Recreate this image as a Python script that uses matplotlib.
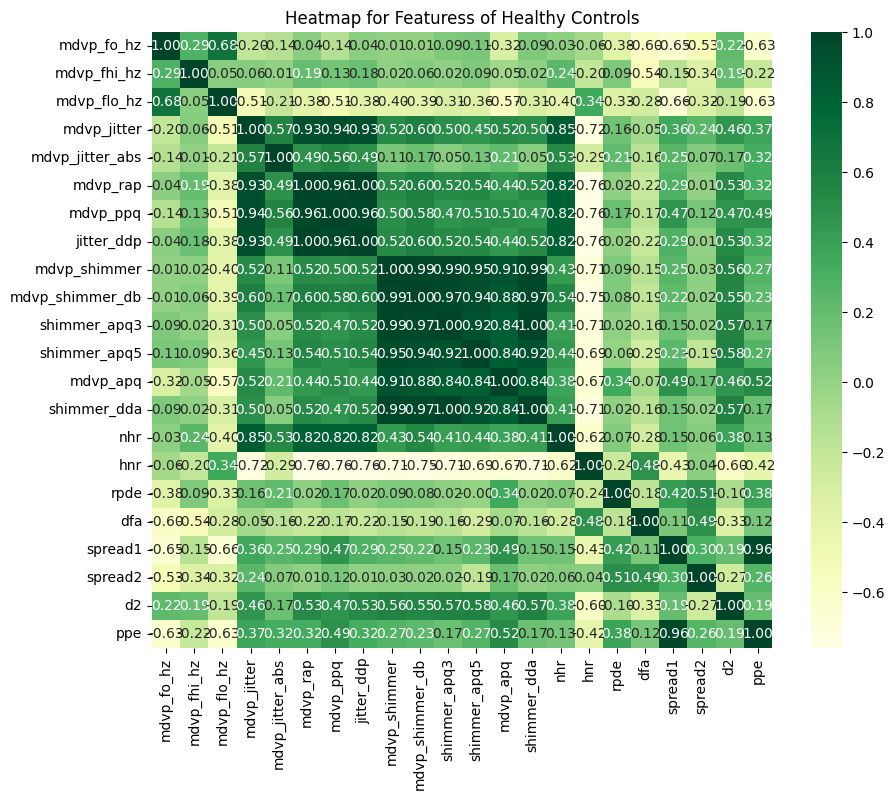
import numpy as np
import pandas as pd
import matplotlib
matplotlib.use("Agg")
import matplotlib.pyplot as plt
import seaborn as sns

features = ["mdvp_fo_hz", "mdvp_fhi_hz", "mdvp_flo_hz", "mdvp_jitter", "mdvp_jitter_abs",
            "mdvp_rap", "mdvp_ppq", "jitter_ddp", "mdvp_shimmer", "mdvp_shimmer_db",
            "shimmer_apq3", "shimmer_apq5", "mdvp_apq", "shimmer_dda", "nhr", "hnr",
            "rpde", "dfa", "spread1", "spread2", "d2", "ppe"]

# correlation values, one row per feature
corr_rows = [
    [1.00, 0.29, 0.68, -0.20, -0.14, 0.04, -0.14, 0.04, 0.01, 0.01, 0.09, 0.11, -0.32, 0.09, 0.03, -0.06, -0.38, -0.60, -0.65, -0.53, 0.22, -0.63],
    [0.29, 1.00, 0.05, 0.06, 0.01, 0.19, 0.13, 0.18, 0.02, 0.06, 0.02, 0.09, -0.05, 0.02, 0.24, -0.20, 0.09, -0.54, -0.15, -0.34, 0.19, -0.22],
    [0.68, 0.05, 1.00, -0.51, -0.21, -0.38, -0.51, -0.38, -0.40, -0.39, -0.31, -0.36, -0.57, -0.31, -0.40, 0.34, -0.33, -0.28, -0.66, -0.32, -0.19, -0.63],
    [-0.20, 0.06, -0.51, 1.00, 0.57, 0.93, 0.94, 0.93, 0.52, 0.60, 0.50, 0.45, 0.52, 0.50, 0.85, -0.72, 0.16, -0.05, 0.36, 0.24, 0.46, 0.37],
    [-0.14, 0.01, -0.21, 0.57, 1.00, 0.49, 0.56, 0.49, 0.11, 0.17, 0.05, 0.13, 0.21, 0.05, 0.53, -0.29, 0.21, -0.16, 0.25, 0.07, 0.17, 0.32],
    [0.04, 0.19, -0.38, 0.93, 0.49, 1.00, 0.96, 1.00, 0.52, 0.60, 0.52, 0.54, 0.44, 0.52, 0.82, -0.76, 0.02, -0.22, 0.29, 0.01, 0.53, 0.32],
    [-0.14, 0.13, -0.51, 0.94, 0.56, 0.96, 1.00, 0.96, 0.50, 0.58, 0.47, 0.51, 0.51, 0.47, 0.82, -0.76, 0.17, -0.17, 0.47, 0.12, 0.47, 0.49],
    [0.04, 0.18, -0.38, 0.93, 0.49, 1.00, 0.96, 1.00, 0.52, 0.60, 0.52, 0.54, 0.44, 0.52, 0.82, -0.76, 0.02, -0.22, 0.29, 0.01, 0.53, 0.32],
    [0.01, 0.02, -0.40, 0.52, 0.11, 0.52, 0.50, 0.52, 1.00, 0.99, 0.99, 0.95, 0.91, 0.99, 0.43, -0.71, 0.09, -0.15, 0.25, 0.03, 0.56, 0.27],
    [0.01, 0.06, -0.39, 0.60, 0.17, 0.60, 0.58, 0.60, 0.99, 1.00, 0.97, 0.94, 0.88, 0.97, 0.54, -0.75, 0.08, -0.19, 0.22, 0.02, 0.55, 0.23],
    [0.09, 0.02, -0.31, 0.50, 0.05, 0.52, 0.47, 0.52, 0.99, 0.97, 1.00, 0.92, 0.84, 1.00, 0.41, -0.71, 0.02, -0.16, 0.15, 0.02, 0.57, 0.17],
    [0.11, 0.09, -0.36, 0.45, 0.13, 0.54, 0.51, 0.54, 0.95, 0.94, 0.92, 1.00, 0.84, 0.92, 0.44, -0.69, -0.001, -0.29, 0.23, -0.19, 0.58, 0.27],
    [-0.32, -0.05, -0.57, 0.52, 0.21, 0.44, 0.51, 0.44, 0.91, 0.88, 0.84, 0.84, 1.00, 0.84, 0.38, -0.67, 0.34, -0.07, 0.49, 0.17, 0.46, 0.52],
    [0.09, 0.02, -0.31, 0.50, 0.05, 0.52, 0.47, 0.52, 0.99, 0.97, 1.00, 0.92, 0.84, 1.00, 0.41, -0.71, 0.02, -0.16, 0.15, 0.02, 0.57, 0.17],
    [0.03, 0.24, -0.40, 0.85, 0.53, 0.82, 0.82, 0.82, 0.43, 0.54, 0.41, 0.44, 0.38, 0.41, 1.00, -0.62, 0.07, -0.28, 0.15, 0.06, 0.38, 0.13],
    [-0.06, -0.20, 0.34, -0.72, -0.29, -0.76, -0.76, -0.76, -0.71, -0.75, -0.71, -0.69, -0.67, -0.71, -0.62, 1.00, -0.24, 0.48, -0.43, 0.04, -0.60, -0.42],
    [-0.38, 0.09, -0.33, 0.16, 0.21, 0.02, 0.17, 0.02, 0.09, 0.08, 0.02, -0.001, 0.34, 0.02, 0.07, -0.24, 1.00, -0.18, 0.42, 0.51, -0.10, 0.38],
    [-0.60, -0.54, -0.28, -0.05, -0.16, -0.22, -0.17, -0.22, -0.15, -0.19, -0.16, -0.29, -0.07, -0.16, -0.28, 0.48, -0.18, 1.00, 0.11, 0.49, -0.33, 0.12],
    [-0.65, -0.15, -0.66, 0.36, 0.25, 0.29, 0.47, 0.29, 0.25, 0.22, 0.15, 0.23, 0.49, 0.15, 0.15, -0.43, 0.42, 0.11, 1.00, 0.30, 0.19, 0.96],
    [-0.53, -0.34, -0.32, 0.24, 0.07, 0.01, 0.12, 0.01, 0.03, 0.02, 0.02, -0.19, 0.17, 0.02, 0.06, 0.04, 0.51, 0.49, 0.30, 1.00, -0.27, 0.26],
    [0.22, 0.19, -0.19, 0.46, 0.17, 0.53, 0.47, 0.53, 0.56, 0.55, 0.57, 0.58, 0.46, 0.57, 0.38, -0.60, -0.10, -0.33, 0.19, -0.27, 1.00, 0.19],
    [-0.63, -0.22, -0.63, 0.37, 0.32, 0.32, 0.49, 0.32, 0.27, 0.23, 0.17, 0.27, 0.52, 0.17, 0.13, -0.42, 0.38, 0.12, 0.96, 0.26, 0.19, 1.00],
]

corr = pd.DataFrame(np.array(corr_rows), index=features, columns=features)

fig = plt.figure(figsize=(8.94, 8.0), dpi=100)
ax = fig.add_axes([152 / 894, 1 - 648 / 800, 620 / 894, 616 / 800])
cax = fig.add_axes([811 / 894, 1 - 648 / 800, 31 / 894, 616 / 800])

sns.heatmap(corr, annot=True, fmt=".2f", cmap="YlGn", ax=ax, cbar_ax=cax)
ax.set_title("Heatmap for Featuress of Healthy Controls")
ax.set_xticklabels(features, rotation=90)
ax.set_yticklabels(features, rotation=0)

fig.savefig("out.png", dpi=100)
